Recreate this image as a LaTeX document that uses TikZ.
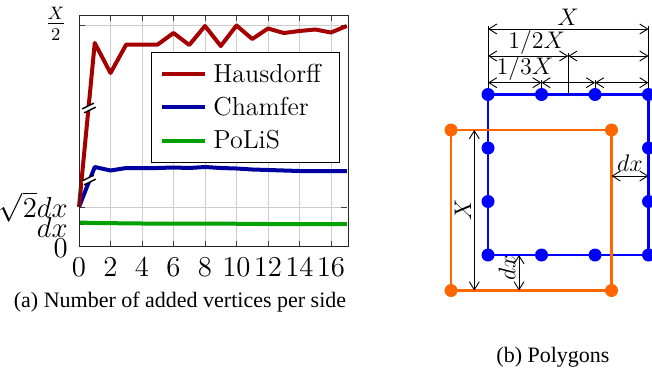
\documentclass[tikz,border=0pt]{standalone}
\usepackage{fontspec}
\newfontfamily\capfont{Liberation Serif}
\usetikzlibrary{arrows.meta}
\definecolor{hausred}{RGB}{165,0,0}
\definecolor{chamblue}{RGB}{0,0,160}
\definecolor{polisgreen}{RGB}{0,160,0}
\definecolor{polyorange}{RGB}{255,102,0}
\tikzset{
  curve/.style={line width=2pt, line join=round},
  gridline/.style={black!20, line width=0.5pt},
  tickmark/.style={black!75, line width=0.4pt},
  lbl/.style={inner sep=0pt, font=\fontsize{13}{15}\selectfont},
  ticklbl/.style={inner sep=0pt, font=\fontsize{14.5}{16}\selectfont},
  ylbl/.style={inner sep=0pt, font=\fontsize{13.5}{15}\selectfont},
  dimlbl/.style={inner sep=0pt, font=\fontsize{12}{14}\selectfont},
  caplbl/.style={inner sep=0pt, font=\capfont\fontsize{11}{13}\selectfont},
  polyline/.style={line width=1.3pt},
  bdot/.style={circle, fill=blue, inner sep=0pt, minimum size=6.5pt},
  odot/.style={circle, fill=polyorange, inner sep=0pt, minimum size=6.5pt},
  dimline/.style={line width=0.45pt, {Straight Barb[length=4pt,width=5pt]}-{Straight Barb[length=4pt,width=5pt]}},
  extline/.style={line width=0.45pt},
}
\begin{document}
\begin{tikzpicture}[x=0.5pt, y=-0.5pt]
	\useasboundingbox (0,0) rectangle (652,375);
	\begin{scope}[shift={(79,0)}, x=7.875pt]
		\foreach \i in {0,2,...,16} \draw[gridline] (\i,15) -- (\i,246);
		\foreach \v in {25,207,224} \draw[gridline] (0,\v) -- (17,\v);
		\foreach \i in {0,2,...,16} {
			\draw[tickmark] (\i,246) -- (\i,240.5);
			\draw[tickmark] (\i,15) -- (\i,20.5);
		}
		\foreach \v in {25,207,224} {
			\draw[tickmark] (0,\v) -- (0.35,\v);
			\draw[tickmark] (17,\v) -- (16.65,\v);
		}
		\draw[curve, polisgreen] plot coordinates {(0,222.5) (1,223) (4,223.5) (8,223.5) (12,224) (17,224)};
		\draw[curve, chamblue] plot coordinates {(0,207) (1,167) (2,170.5) (3,168) (4,168) (5,168) (6,167.5) (7,168) (8,167) (9,168) (10,168.5) (11,169.5) (12,170) (13,170.5) (14,171) (15,171) (16,171) (17,171)};
		\draw[curve, hausred] plot coordinates {(0,207) (1,43) (2,73) (3,44.5) (4,44.5) (5,44.5) (6,33) (7,45) (8,26) (9,46) (10,25.5) (11,39) (12,28.5) (13,33) (14,31) (15,29.5) (16,32.5) (17,26)};
	\end{scope}
	% axis breaks
	\begin{scope}[shift={(89,108)}, rotate=26]
		\fill[white] (-6.5,-2.2) rectangle (6.5,2.2);
		\draw[line width=0.7pt] (-6.5,-2.2) -- (6.5,-2.2) (-6.5,2.2) -- (6.5,2.2);
	\end{scope}
	\begin{scope}[shift={(89,180)}, rotate=26]
		\fill[white] (-6.5,-2.2) rectangle (6.5,2.2);
		\draw[line width=0.7pt] (-6.5,-2.2) -- (6.5,-2.2) (-6.5,2.2) -- (6.5,2.2);
	\end{scope}
	\draw[black!85, line width=0.5pt] (79,15) rectangle (348,246);
	% legend
	\node (legend) [draw, fill=white, line width=0.5pt, minimum width=94pt, minimum height=55pt] at (245,107) {};
	\draw[curve, hausred] (161.7,74) -- (205,74);
	\draw[curve, chamblue] (161.7,107) -- (205,107);
	\draw[curve, polisgreen] (161.7,140.7) -- (205,140.7);
	\node (haus) [lbl, anchor=west] at (213,73) {Hausdorff};
	\node (cham) [lbl, anchor=west] at (213,106.5) {Chamfer};
	\node (polis) [lbl, anchor=west] at (213,140) {PoLiS};
	% tick labels
	\foreach \i in {0,2,...,16} \node (xl\i) [ticklbl] at ({79+15.75*\i},267) {$\i$};
	\node (ylhalf) [ylbl, anchor=east] at (67,24) {$\frac{X}{2}$};
	\node (ylsqrt) [ylbl, anchor=east] at (68,207) {$\sqrt{2}dx$};
	\node (yldx) [ylbl, anchor=east] at (68,227) {$dx$};
	\node (ylzero) [ticklbl, anchor=east] at (68,248) {$0$};
	\node (capa) [caplbl] at (180,302) {(a) Number of added vertices per side};
	% polygons
	\coordinate (bA) at (488,94.5);
	\coordinate (bB) at (648.5,94.5);
	\coordinate (bC) at (648.5,255);
	\coordinate (bD) at (488,255);
	\coordinate (oA) at (451,130);
	\coordinate (oB) at (611.5,130);
	\coordinate (oC) at (611.5,290.5);
	\coordinate (oD) at (451,290.5);
	\draw[polyline, blue] (bA) -- (bB) -- (bC) -- (bD) -- cycle;
	\draw[polyline, polyorange] (oA) -- (oB) -- (oC) -- (oD) -- cycle;
	\node (t1) [bdot] at (bA) {};
	\node (t2) [bdot] at (541.5,94.5) {};
	\node (t3) [bdot] at (595,94.5) {};
	\node (t4) [bdot] at (bB) {};
	\node (u1) [bdot] at (bD) {};
	\node (u2) [bdot] at (541.5,255) {};
	\node (u3) [bdot] at (595,255) {};
	\node (u4) [bdot] at (bC) {};
	\node (l2) [bdot] at (488,148) {};
	\node (l3) [bdot] at (488,201.5) {};
	\node (r2) [bdot] at (648.5,148) {};
	\node (r3) [bdot] at (648.5,201.5) {};
	\node (o1) [odot] at (oA) {};
	\node (o2) [odot] at (oB) {};
	\node (o3) [odot] at (oC) {};
	\node (o4) [odot] at (oD) {};
	% dimensions
	\coordinate (xa) at (488,29);
	\coordinate (xb) at (648.5,29);
	\coordinate (ha) at (488,56);
	\coordinate (hm) at (568.25,56);
	\coordinate (hb) at (648.5,56);
	\coordinate (ta) at (488,82.7);
	\coordinate (tb) at (541.5,82.7);
	\coordinate (tc) at (595,82.7);
	\coordinate (td) at (648.5,82.7);
	\draw[extline, shorten >=-1.5pt] (t1) -- (xa);
	\draw[extline, shorten >=-1.5pt] (t4) -- (xb);
	\draw[extline, shorten <=-1.5pt] (hm) -- (hm |- bA);
	\draw[extline, shorten >=-1.5pt] (t2) -- (tb);
	\draw[extline, shorten >=-1.5pt] (t3) -- (tc);
	\draw[dimline] (xa) -- (xb);
	\draw[dimline] (ha) -- (hm);
	\draw[dimline] (hm) -- (hb);
	\draw[dimline] (ta) -- (tb);
	\draw[dimline] (tb) -- (tc);
	\draw[dimline] (tc) -- (td);
	\node (lx) [dimlbl] at (568,17) {$X$};
	\node (lhalf) [dimlbl] at (536.7,42.5) {$1/2X$};
	\node (lthird) [dimlbl] at (525,68.5) {$1/3X$};
	\coordinate (va) at (474.3,130);
	\coordinate (vb) at (474.3,290.5);
	\draw[dimline] (va) -- (vb);
	\node (lxv) [dimlbl, rotate=90] at (463,210) {$X$};
	\coordinate (wa) at (519,255);
	\coordinate (wb) at (519,290.5);
	\draw[dimline] (wa) -- (wb);
	\node (ldxv) [dimlbl, rotate=90] at (507,268) {$dx$};
	\coordinate (za) at (611.5,176);
	\coordinate (zb) at (648.5,176);
	\draw[dimline] (za) -- (zb);
	\node (ldxh) [dimlbl] at (630,163) {$dx$};
	\node (capb) [caplbl] at (553,357) {(b) Polygons};
\end{tikzpicture}
\end{document}
